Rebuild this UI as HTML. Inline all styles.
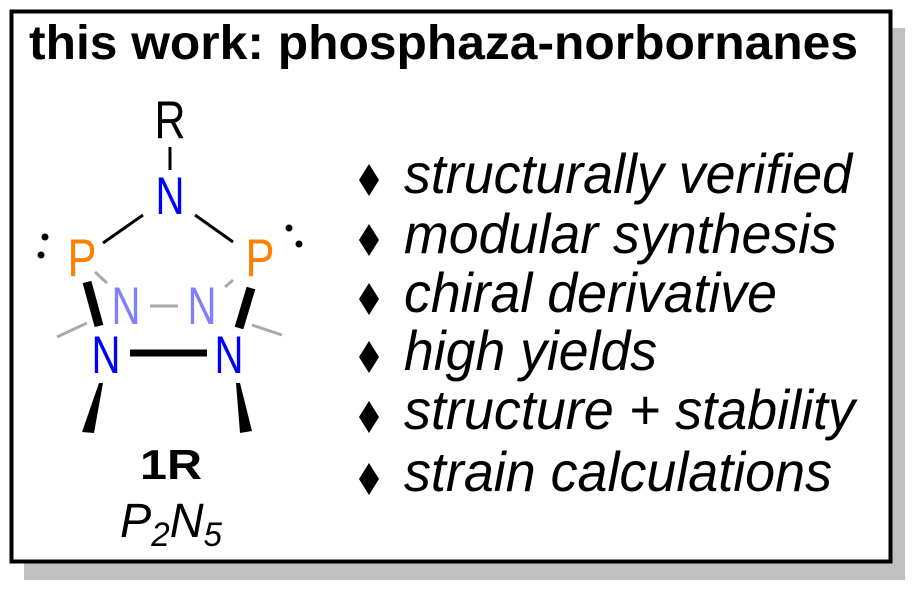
<!DOCTYPE html>
<html><head><meta charset="utf-8"><style>
html,body{margin:0;padding:0;background:#fff;width:918px;height:594px;overflow:hidden}
svg{display:block}
text{font-family:"Liberation Sans",Arial,sans-serif}
</style></head><body>
<svg width="918" height="594" viewBox="0 0 918 594" xmlns="http://www.w3.org/2000/svg">
<rect x="24" y="28" width="881" height="552" fill="#c0c0c0"/>
<rect x="11.5" y="11.5" width="879" height="550" fill="#fff" stroke="#000" stroke-width="4"/>
<text x="29" y="59" font-size="48" font-weight="bold" textLength="829" lengthAdjust="spacingAndGlyphs">this work: phosphaza-norbornanes</text>

<g font-style="italic" font-size="56">
<text x="404" y="193" textLength="448" lengthAdjust="spacingAndGlyphs">structurally verified</text>
<text x="404" y="253" textLength="433" lengthAdjust="spacingAndGlyphs">modular synthesis</text>
<text x="404" y="312" textLength="373" lengthAdjust="spacingAndGlyphs">chiral derivative</text>
<text x="404" y="370" textLength="253" lengthAdjust="spacingAndGlyphs">high yields</text>
<text x="404" y="429" textLength="451" lengthAdjust="spacingAndGlyphs">structure + stability</text>
<text x="404" y="491" textLength="428" lengthAdjust="spacingAndGlyphs">strain calculations</text>
</g>
<g fill="#000">
<polygon points="369,164 379,180 369,196 359,180"/>
<polygon points="369,224 379,240 369,256 359,240"/>
<polygon points="369,283 379,299 369,315 359,299"/>
<polygon points="369,341 379,357 369,373 359,357"/>
<polygon points="369,401 379,417 369,433 359,417"/>
<polygon points="369,463 379,479 369,495 359,479"/>
</g>

<g stroke-linecap="butt">
<line x1="170" y1="147" x2="170" y2="170" stroke="#000" stroke-width="3"/>
<line x1="103" y1="243" x2="143" y2="215" stroke="#000" stroke-width="3"/>
<line x1="195" y1="215" x2="233" y2="242" stroke="#000" stroke-width="3"/>
<line x1="150" y1="306" x2="178" y2="306" stroke="#aaa" stroke-width="3"/>
<line x1="95" y1="272" x2="107" y2="283" stroke="#aaa" stroke-width="3"/>
<line x1="233" y1="280" x2="225" y2="287" stroke="#aaa" stroke-width="3"/>
<line x1="57" y1="337" x2="87" y2="323" stroke="#aaa" stroke-width="3"/>
<line x1="252" y1="325" x2="282" y2="335" stroke="#aaa" stroke-width="3"/>
<line x1="87" y1="282" x2="99" y2="326" stroke="#000" stroke-width="9"/>
<line x1="251" y1="288" x2="239" y2="328" stroke="#000" stroke-width="9"/>
<line x1="130" y1="353" x2="207" y2="353" stroke="#000" stroke-width="7"/>
</g>
<polygon points="99,383 103,383 94,433 82,432" fill="#000"/>
<polygon points="236,383 240,383 252,431 240,433" fill="#000"/>
<circle cx="45" cy="237" r="3.5" fill="#000"/>
<circle cx="41" cy="255" r="3.5" fill="#000"/>
<circle cx="289" cy="228" r="3.5" fill="#000"/>
<circle cx="299" cy="244" r="3.5" fill="#000"/>
<g font-size="53" text-anchor="middle">
<text x="170" y="138" fill="#000" textLength="31" lengthAdjust="spacingAndGlyphs">R</text>
<text x="170" y="214" fill="#0000ff" textLength="29" lengthAdjust="spacingAndGlyphs">N</text>
<text x="82" y="276" fill="#ff8000" textLength="29" lengthAdjust="spacingAndGlyphs">P</text>
<text x="260" y="276" fill="#ff8000" textLength="29" lengthAdjust="spacingAndGlyphs">P</text>
<text x="126" y="324" fill="#8080ff" textLength="29" lengthAdjust="spacingAndGlyphs">N</text>
<text x="202" y="324" fill="#8080ff" textLength="29" lengthAdjust="spacingAndGlyphs">N</text>
<text x="106" y="373" fill="#0000ff" textLength="29" lengthAdjust="spacingAndGlyphs">N</text>
<text x="229" y="373" fill="#0000ff" textLength="29" lengthAdjust="spacingAndGlyphs">N</text>
</g>
<text x="140" y="479" font-size="42" font-weight="bold" textLength="62" lengthAdjust="spacingAndGlyphs">1R</text>
<text x="120" y="537" font-size="48" font-style="italic" textLength="102" lengthAdjust="spacingAndGlyphs">P<tspan font-size="34" dy="9">2</tspan><tspan dy="-9">N</tspan><tspan font-size="34" dy="9">5</tspan></text>
</svg>
</body></html>
